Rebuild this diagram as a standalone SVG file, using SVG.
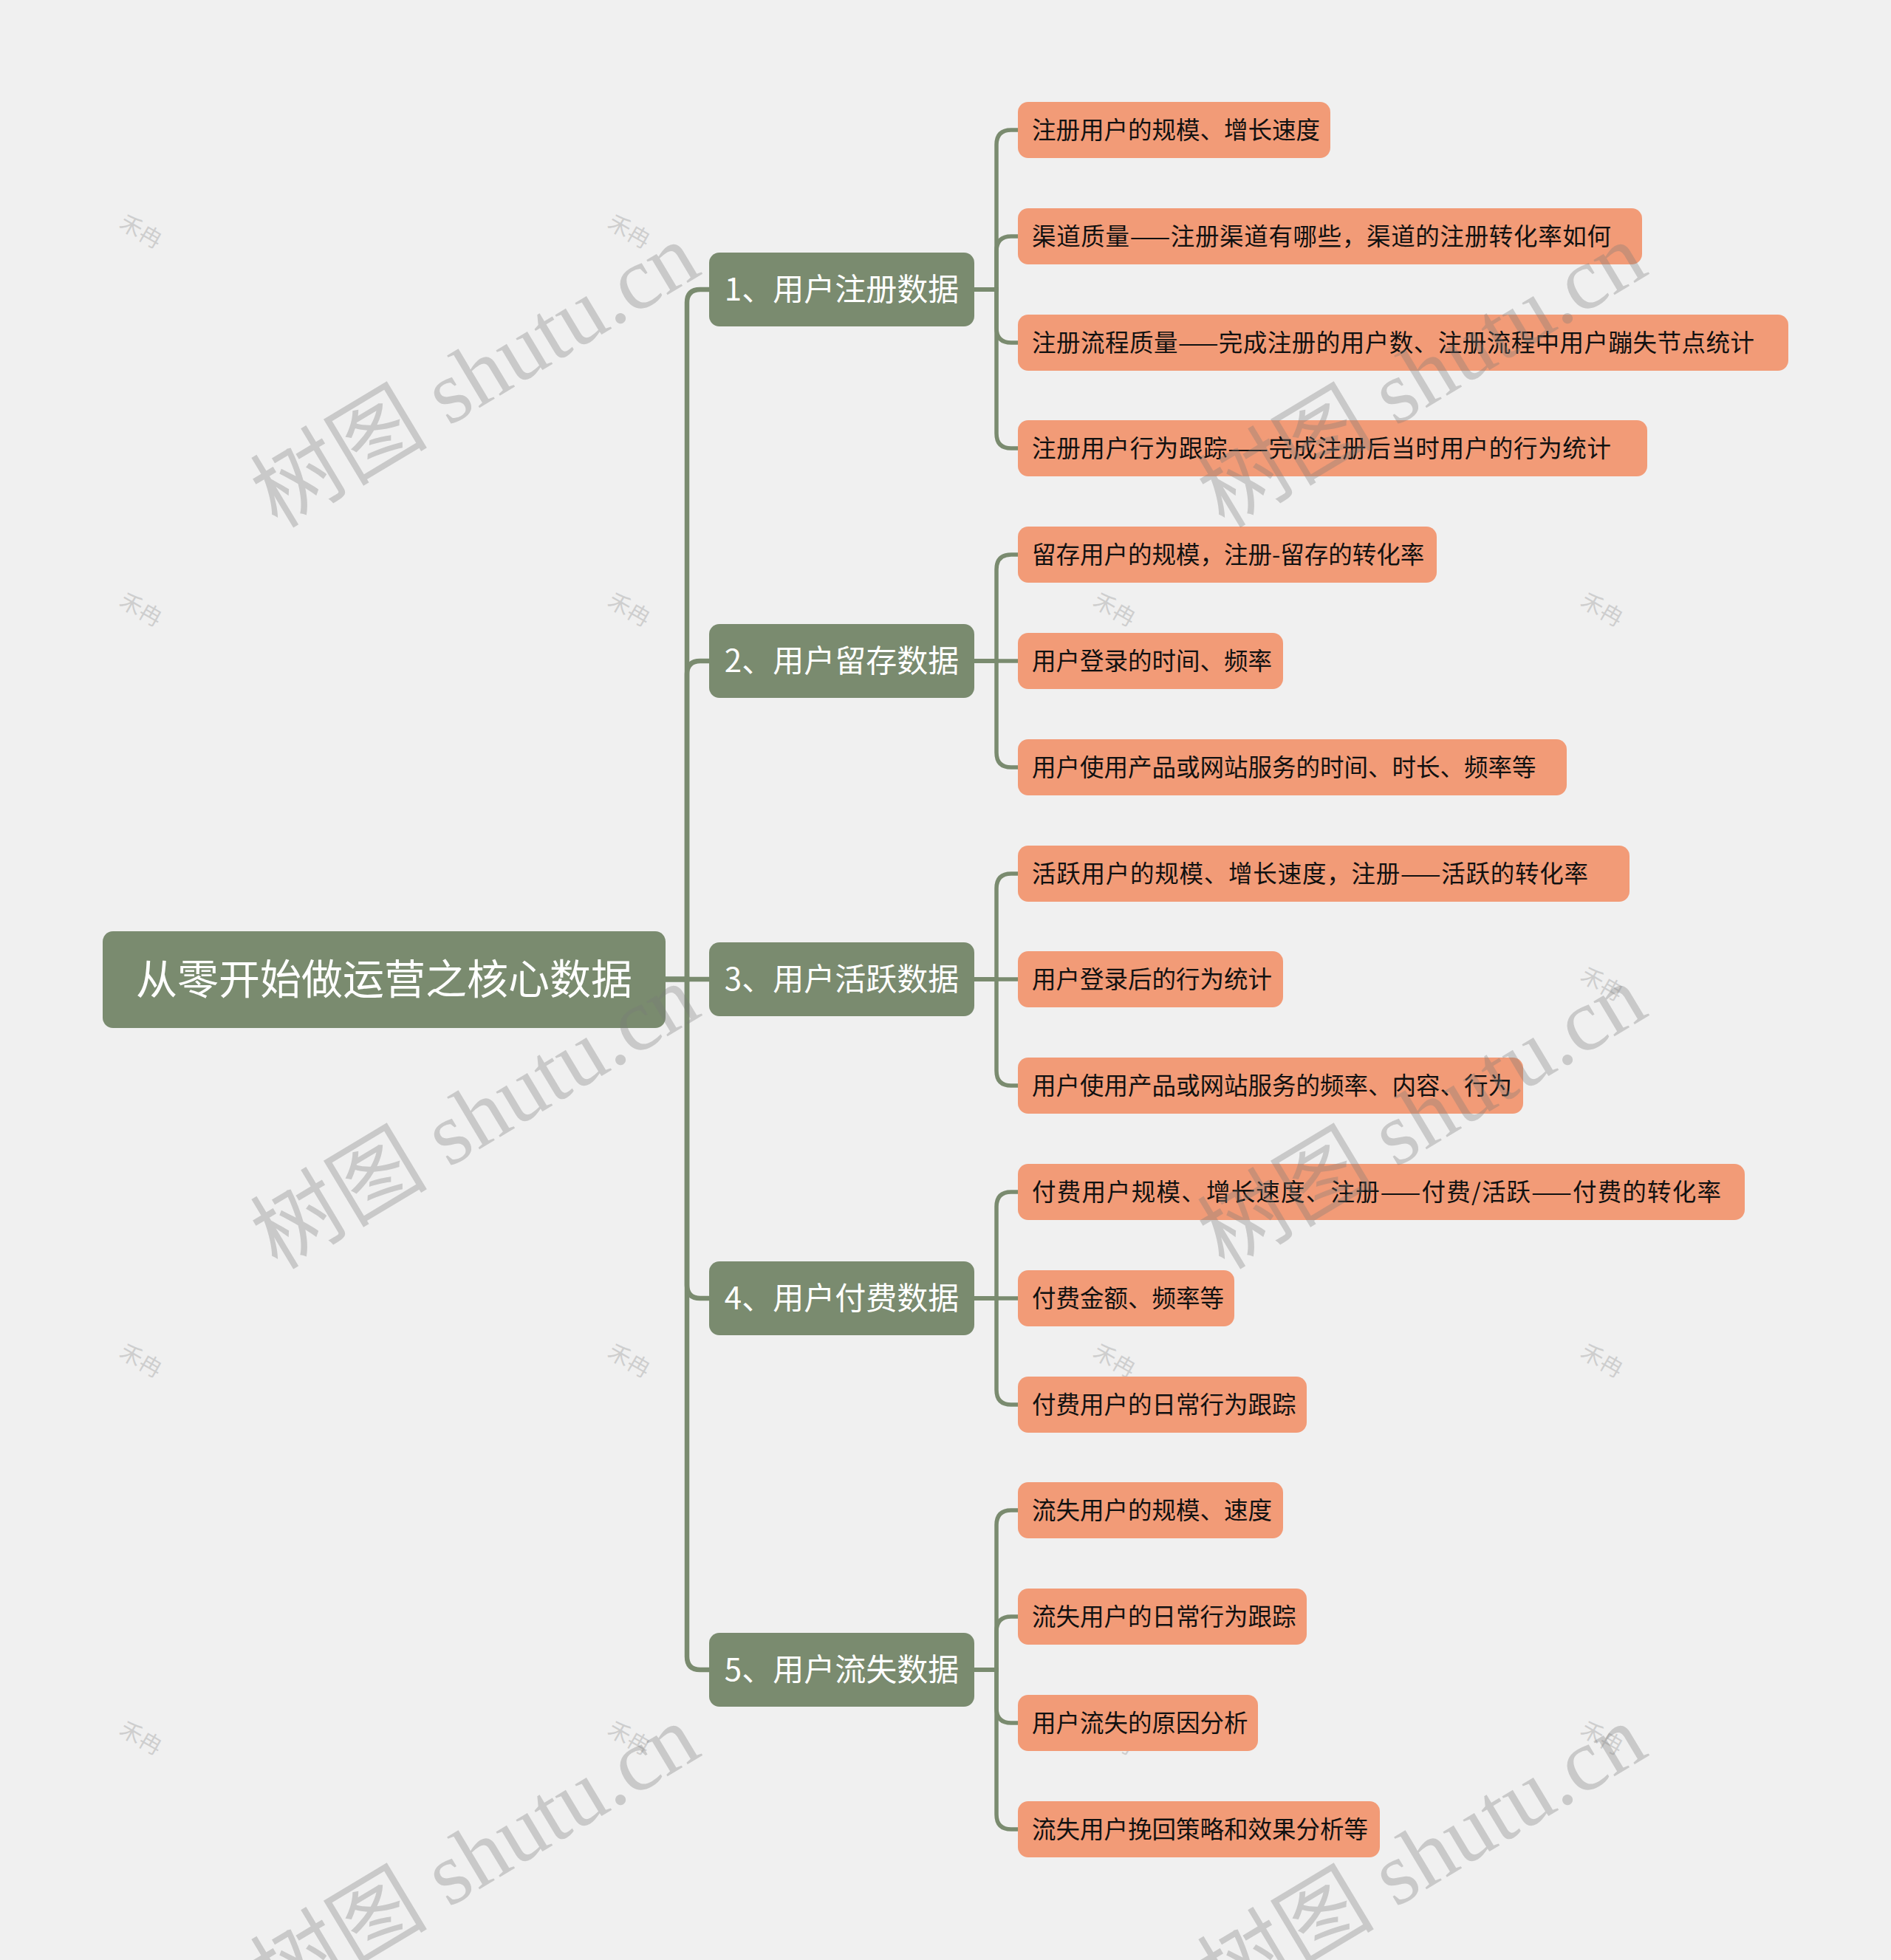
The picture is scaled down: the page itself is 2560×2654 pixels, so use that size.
<svg xmlns="http://www.w3.org/2000/svg" width="2560" height="2654" viewBox="0 0 2560 2654">
<style>
.bg{fill:#f0f0f0}
.root rect{fill:#7a8b6f}
.l1 rect{fill:#7a8b6f}
.l2 rect{fill:#f29b77}
.root text{font-family:"Noto Sans CJK SC","Noto Sans",sans-serif;font-size:56px;fill:#ffffff;text-anchor:middle}
.l1 text{font-family:"Noto Sans CJK SC","Noto Sans",sans-serif;font-size:42px;fill:#ffffff;text-anchor:middle}
.l2 text{font-family:"Noto Sans CJK SC","Noto Sans",sans-serif;font-size:32.5px;fill:#111111}
.e1{fill:none;stroke:#7a8b6f;stroke-width:6.5}
.e2{fill:none;stroke:#7a8b6f;stroke-width:5.5}
.wm{font-family:"Liberation Serif","Noto Sans CJK SC",serif;font-size:120px;fill:#7a7a7a;fill-opacity:0.33;text-anchor:middle}
.logo{font-family:"Noto Sans CJK SC",sans-serif;font-size:30px;fill:#b8b8b8;fill-opacity:0.6;text-anchor:middle}
</style>
<rect class="bg" x="0" y="0" width="2560" height="2654"/>
<g id="logos">
<text class="logo" x="191" y="324" transform="rotate(30 191 313)">禾冉</text>
<text class="logo" x="852" y="324" transform="rotate(30 852 313)">禾冉</text>
<text class="logo" x="191" y="836" transform="rotate(30 191 825)">禾冉</text>
<text class="logo" x="852" y="836" transform="rotate(30 852 825)">禾冉</text>
<text class="logo" x="1509" y="836" transform="rotate(30 1509 825)">禾冉</text>
<text class="logo" x="2169" y="836" transform="rotate(30 2169 825)">禾冉</text>
<text class="logo" x="2169" y="1343" transform="rotate(30 2169 1332)">禾冉</text>
<text class="logo" x="191" y="1853" transform="rotate(30 191 1842)">禾冉</text>
<text class="logo" x="852" y="1853" transform="rotate(30 852 1842)">禾冉</text>
<text class="logo" x="1509" y="1853" transform="rotate(30 1509 1842)">禾冉</text>
<text class="logo" x="2169" y="1853" transform="rotate(30 2169 1842)">禾冉</text>
<text class="logo" x="191" y="2364" transform="rotate(30 191 2353)">禾冉</text>
<text class="logo" x="852" y="2364" transform="rotate(30 852 2353)">禾冉</text>
<text class="logo" x="1509" y="2364" transform="rotate(30 1509 2353)">禾冉</text>
<text class="logo" x="2169" y="2364" transform="rotate(30 2169 2353)">禾冉</text>
</g>
<g id="connectors">
<path class="e1" d="M901 1326 H930 V410 Q930 392 948 392 H960"/>
<path class="e1" d="M901 1326 H930 V913 Q930 895 948 895 H960"/>
<path class="e1" d="M901 1326 H960"/>
<path class="e1" d="M901 1326 H930 V1740 Q930 1758 948 1758 H960"/>
<path class="e1" d="M901 1326 H930 V2243 Q930 2261 948 2261 H960"/>
<path class="e2" d="M1319 392 H1349 V196 Q1349 176 1369 176 H1378"/>
<path class="e2" d="M1319 392 H1349 V340 Q1349 320 1369 320 H1378"/>
<path class="e2" d="M1319 392 H1349 V444 Q1349 464 1369 464 H1378"/>
<path class="e2" d="M1319 392 H1349 V587 Q1349 607 1369 607 H1378"/>
<path class="e2" d="M1319 895 H1349 V771 Q1349 751 1369 751 H1378"/>
<path class="e2" d="M1319 895 H1378"/>
<path class="e2" d="M1319 895 H1349 V1019 Q1349 1039 1369 1039 H1378"/>
<path class="e2" d="M1319 1326 H1349 V1203 Q1349 1183 1369 1183 H1378"/>
<path class="e2" d="M1319 1326 H1378"/>
<path class="e2" d="M1319 1326 H1349 V1450 Q1349 1470 1369 1470 H1378"/>
<path class="e2" d="M1319 1758 H1349 V1634 Q1349 1614 1369 1614 H1378"/>
<path class="e2" d="M1319 1758 H1378"/>
<path class="e2" d="M1319 1758 H1349 V1882 Q1349 1902 1369 1902 H1378"/>
<path class="e2" d="M1319 2261 H1349 V2065 Q1349 2045 1369 2045 H1378"/>
<path class="e2" d="M1319 2261 H1349 V2209 Q1349 2189 1369 2189 H1378"/>
<path class="e2" d="M1319 2261 H1349 V2313 Q1349 2333 1369 2333 H1378"/>
<path class="e2" d="M1319 2261 H1349 V2457 Q1349 2477 1369 2477 H1378"/>
</g>
<g id="root" class="root">
<rect x="139" y="1261" width="762" height="131" rx="14"/>
<text x="520" y="1346">从零开始做运营之核心数据</text>
</g>
<g id="n1" class="l1"><rect x="960" y="342" width="359" height="100" rx="14"/><text x="1139.5" y="407">1、用户注册数据</text></g>
<g id="n2" class="l1"><rect x="960" y="845" width="359" height="100" rx="14"/><text x="1139.5" y="910">2、用户留存数据</text></g>
<g id="n3" class="l1"><rect x="960" y="1276" width="359" height="100" rx="14"/><text x="1139.5" y="1341">3、用户活跃数据</text></g>
<g id="n4" class="l1"><rect x="960" y="1708" width="359" height="100" rx="14"/><text x="1139.5" y="1773">4、用户付费数据</text></g>
<g id="n5" class="l1"><rect x="960" y="2211" width="359" height="100" rx="14"/><text x="1139.5" y="2276">5、用户流失数据</text></g>
<g id="c1a" class="l2"><rect x="1378" y="138" width="423" height="76" rx="14"/><text x="1397" y="188">注册用户的规模、增长速度</text></g>
<g id="c1b" class="l2"><rect x="1378" y="282" width="845" height="76" rx="14"/><text x="1397" y="332" textLength="784" lengthAdjust="spacing">渠道质量——注册渠道有哪些，渠道的注册转化率如何</text></g>
<g id="c1c" class="l2"><rect x="1378" y="426" width="1043" height="76" rx="14"/><text x="1397" y="476" textLength="978" lengthAdjust="spacing">注册流程质量——完成注册的用户数、注册流程中用户蹦失节点统计</text></g>
<g id="c1d" class="l2"><rect x="1378" y="569" width="852" height="76" rx="14"/><text x="1397" y="619" textLength="784" lengthAdjust="spacing">注册用户行为跟踪——完成注册后当时用户的行为统计</text></g>
<g id="c2a" class="l2"><rect x="1378" y="713" width="567" height="76" rx="14"/><text x="1397" y="763">留存用户的规模，注册-留存的转化率</text></g>
<g id="c2b" class="l2"><rect x="1378" y="857" width="359" height="76" rx="14"/><text x="1397" y="907">用户登录的时间、频率</text></g>
<g id="c2c" class="l2"><rect x="1378" y="1001" width="743" height="76" rx="14"/><text x="1397" y="1051">用户使用产品或网站服务的时间、时长、频率等</text></g>
<g id="c3a" class="l2"><rect x="1378" y="1145" width="828" height="76" rx="14"/><text x="1397" y="1195" textLength="753" lengthAdjust="spacing">活跃用户的规模、增长速度，注册——活跃的转化率</text></g>
<g id="c3b" class="l2"><rect x="1378" y="1288" width="359" height="76" rx="14"/><text x="1397" y="1338">用户登录后的行为统计</text></g>
<g id="c3c" class="l2"><rect x="1378" y="1432" width="684" height="76" rx="14"/><text x="1397" y="1482">用户使用产品或网站服务的频率、内容、行为</text></g>
<g id="c4a" class="l2"><rect x="1378" y="1576" width="984" height="76" rx="14"/><text x="1397" y="1626" textLength="933" lengthAdjust="spacing">付费用户规模、增长速度、注册——付费/活跃——付费的转化率</text></g>
<g id="c4b" class="l2"><rect x="1378" y="1720" width="293" height="76" rx="14"/><text x="1397" y="1770">付费金额、频率等</text></g>
<g id="c4c" class="l2"><rect x="1378" y="1864" width="391" height="76" rx="14"/><text x="1397" y="1914">付费用户的日常行为跟踪</text></g>
<g id="c5a" class="l2"><rect x="1378" y="2007" width="359" height="76" rx="14"/><text x="1397" y="2057">流失用户的规模、速度</text></g>
<g id="c5b" class="l2"><rect x="1378" y="2151" width="391" height="76" rx="14"/><text x="1397" y="2201">流失用户的日常行为跟踪</text></g>
<g id="c5c" class="l2"><rect x="1378" y="2295" width="325" height="76" rx="14"/><text x="1397" y="2345">用户流失的原因分析</text></g>
<g id="c5d" class="l2"><rect x="1378" y="2439" width="490" height="76" rx="14"/><text x="1397" y="2489">流失用户挽回策略和效果分析等</text></g>
<g id="watermarks">
<text class="wm" x="643" y="549" transform="rotate(-31 643 508)">树图 shutu.cn</text>
<text class="wm" x="1925" y="549" transform="rotate(-31 1925 508)">树图 shutu.cn</text>
<text class="wm" x="643" y="1553" transform="rotate(-31 643 1512)">树图 shutu.cn</text>
<text class="wm" x="1925" y="1553" transform="rotate(-31 1925 1512)">树图 shutu.cn</text>
<text class="wm" x="643" y="2555" transform="rotate(-31 643 2514)">树图 shutu.cn</text>
<text class="wm" x="1925" y="2555" transform="rotate(-31 1925 2514)">树图 shutu.cn</text>
</g>
</svg>
